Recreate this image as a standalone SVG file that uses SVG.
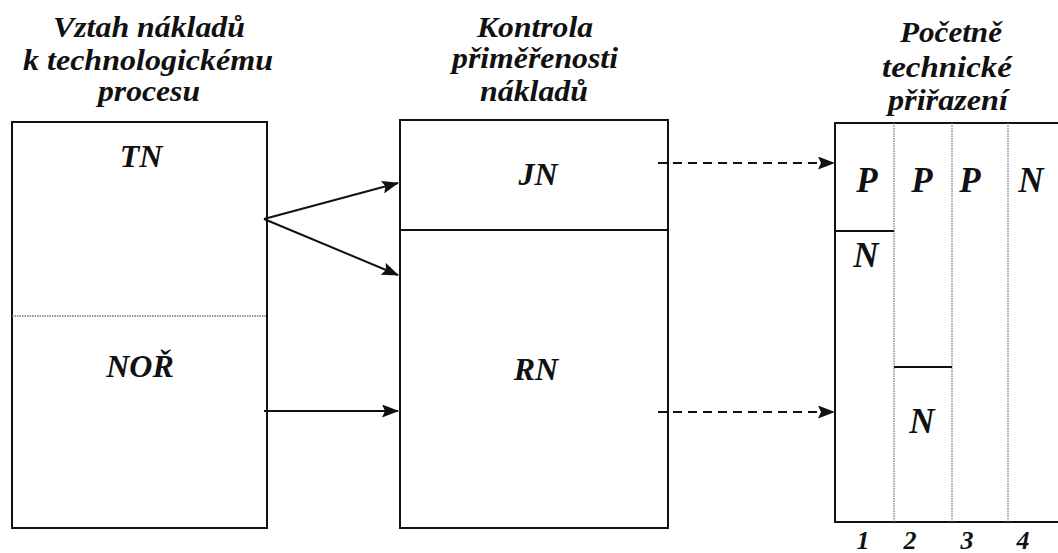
<svg xmlns="http://www.w3.org/2000/svg" width="1058" height="553" viewBox="0 0 1058 553">
  <defs>
    <marker id="head" viewBox="0 0 17 13" refX="16" refY="6.5" markerWidth="17" markerHeight="13" markerUnits="userSpaceOnUse" orient="auto">
      <path d="M0,0 L17,6.5 L0,13 L3,6.5 Z" fill="#111"/>
    </marker>
  </defs>
  <style>
    text { font-family: 'Liberation Serif', 'Times New Roman', Times, serif; font-style: italic; font-weight: bold; fill: #111; text-anchor: middle; }
    .head { font-size: 30px; }
    .lbl { font-size: 32px; }
    .cell { font-size: 35px; }
    .num { font-size: 26px; }
    .box { fill: none; stroke: #111; stroke-width: 2; }
    .rule { stroke: #111; stroke-width: 2; }
    .dot { stroke: #777; stroke-width: 1.3; stroke-dasharray: 1.5 1; }
    .arrow { stroke: #111; stroke-width: 2; fill: none; marker-end: url(#head); }
    .dash { stroke-dasharray: 9 6; }
  </style>
  <rect width="1058" height="553" fill="#fff"/>

  <!-- left column: cost relation to the process -->
  <g id="cost-process">
    <text class="head" x="149" y="37" textLength="192" lengthAdjust="spacingAndGlyphs">Vztah nákladů</text>
    <text class="head" x="148" y="70" textLength="250" lengthAdjust="spacingAndGlyphs">k technologickému</text>
    <text class="head" x="149" y="101" textLength="102" lengthAdjust="spacingAndGlyphs">procesu</text>
    <rect class="box" x="12" y="122" width="255" height="406"/>
    <line class="dot" x1="12" y1="316" x2="267" y2="316"/>
    <text class="lbl" x="141" y="167">TN</text>
    <text class="lbl" x="140" y="377">NOŘ</text>
  </g>

  <!-- middle column: adequacy check -->
  <g id="adequacy">
    <text class="head" x="535" y="37" textLength="116" lengthAdjust="spacingAndGlyphs">Kontrola</text>
    <text class="head" x="535" y="68" textLength="166" lengthAdjust="spacingAndGlyphs">přiměřenosti</text>
    <text class="head" x="534" y="101" textLength="108" lengthAdjust="spacingAndGlyphs">nákladů</text>
    <rect class="box" x="400" y="120" width="268" height="408"/>
    <line class="rule" x1="400" y1="230" x2="668" y2="230"/>
    <text class="lbl" x="538" y="185">JN</text>
    <text class="lbl" x="536" y="380">RN</text>
  </g>

  <!-- right column: technical assignment -->
  <g id="assignment">
    <text class="head" x="951" y="42" textLength="102" lengthAdjust="spacingAndGlyphs">Početně</text>
    <text class="head" x="947" y="77" textLength="130" lengthAdjust="spacingAndGlyphs">technické</text>
    <text class="head" x="948" y="110" textLength="120" lengthAdjust="spacingAndGlyphs">přiřazení</text>
    <path class="box" d="M1058,123 L835,123 L835,522 L1058,522"/>
    <line class="dot" x1="894" y1="123" x2="894" y2="522"/>
    <line class="dot" x1="952" y1="123" x2="952" y2="522"/>
    <line class="dot" x1="1008" y1="123" x2="1008" y2="522"/>
    <line class="rule" x1="835" y1="231" x2="894" y2="231"/>
    <line class="rule" x1="894" y1="367" x2="952" y2="367"/>
    <text class="cell" x="867" y="192">P</text>
    <text class="cell" x="922" y="192">P</text>
    <text class="cell" x="970" y="192">P</text>
    <text class="cell" x="1031" y="192">N</text>
    <text class="cell" x="866" y="267">N</text>
    <text class="cell" x="922" y="433">N</text>
    <text class="num" x="863" y="549">1</text>
    <text class="num" x="910" y="549">2</text>
    <text class="num" x="967" y="549">3</text>
    <text class="num" x="1023" y="549">4</text>
  </g>

  <!-- connectors -->
  <g id="connectors">
    <line class="arrow" x1="264" y1="219" x2="398" y2="183"/>
    <line class="arrow" x1="264" y1="219" x2="398" y2="275"/>
    <line class="arrow" x1="264" y1="411" x2="398" y2="411"/>
    <line class="arrow dash" x1="658" y1="163" x2="834" y2="163"/>
    <line class="arrow dash" x1="658" y1="412" x2="834" y2="412"/>
  </g>
</svg>
